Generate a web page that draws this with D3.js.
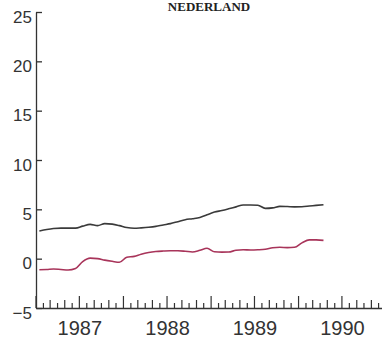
<!DOCTYPE html>
<html>
<head>
<meta charset="utf-8">
<script src="https://cdn.jsdelivr.net/npm/d3@7"></script>
<style>
  body { margin: 0; background: #fff; }
  text { font-family: "Liberation Sans", "DejaVu Sans", sans-serif; fill: #333; }
</style>
</head>
<body>
<script>
// monthly series, Jan 1987 - Apr 1990
const start = new Date(1987, 0, 15);
const blackValues = [2.8, 2.95, 3.05, 3.1, 3.1, 3.1, 3.3, 3.48, 3.35, 3.55, 3.5, 3.35,
                     3.15, 3.08, 3.12, 3.18, 3.27, 3.42, 3.55, 3.75, 3.95, 4.05, 4.18, 4.45,
                     4.72, 4.88, 5.05, 5.25, 5.44, 5.44, 5.42, 5.1, 5.15, 5.3, 5.28, 5.25,
                     5.26, 5.33, 5.4, 5.47];
const redValues = [-1.12, -1.1, -1.05, -1.1, -1.15, -1.0, -0.3, 0.05, 0.0, -0.15, -0.27, -0.37,
                   0.15, 0.23, 0.45, 0.62, 0.72, 0.77, 0.8, 0.8, 0.75, 0.68, 0.85, 1.05,
                   0.7, 0.66, 0.67, 0.85, 0.9, 0.88, 0.9, 0.95, 1.1, 1.15, 1.12, 1.15,
                   1.6, 1.9, 1.9, 1.85];
const yTicks = [-5, 0, 5, 10, 15, 20, 25];
const yearLabels = [1987, 1988, 1989, 1990];
const title = "NEDERLAND";

const svg = d3.select("body")
              .append("svg")
              .attr("width", 382)
              .attr("height", 343);

const x = d3.scaleTime()
            .domain([new Date(1987, 0, 1), new Date(1991, 0, 1)])
            .range([36, 386]);

const y = d3.scaleLinear()
            .domain([-5, 25])
            .range([308, 12]);

const months = d3.timeMonth.range(new Date(1987, 0, 1), new Date(1991, 0, 1));
const dates = blackValues.map((d, i) => d3.timeMonth.offset(start, i));

// title, kept at the very top but readable
svg.append("text")
   .attr("x", 209)
   .attr("y", 11)
   .attr("text-anchor", "middle")
   .style("font-family", "'Liberation Serif', serif")
   .style("font-weight", "bold")
   .style("font-size", "13px")
   .style("fill", "#222")
   .text(title);

// y axis
const yAxis = svg.append("g")
   .attr("transform", "translate(36,0)")
   .call(d3.axisLeft(y).tickValues(yTicks).tickSizeInner(-6).tickSizeOuter(0).tickPadding(4)
           .tickFormat(d => d < 0 ? "\u2212" + Math.abs(d) : d));
yAxis.selectAll("text").style("font-size", "17px").attr("dy", "0.6em");
yAxis.selectAll("path, line").attr("stroke", "#333").attr("stroke-width", 1.3);

// x axis
const xAxis = svg.append("g")
   .attr("transform", "translate(0,308)")
   .call(d3.axisBottom(x)
           .tickValues(yearLabels.map(yr => new Date(yr, 6, 1)))
           .tickSize(0).tickPadding(13)
           .tickFormat(d => d.getFullYear()));
xAxis.selectAll("text").style("font-size", "20px");
xAxis.select(".domain").attr("stroke", "#333").attr("stroke-width", 1.3);

svg.append("g")
   .selectAll("line")
   .data(months)
   .join("line")
   .attr("x1", d => x(d))
   .attr("x2", d => x(d))
   .attr("y1", 308)
   .attr("y2", (d, i) => 308 - (i % 6 === 0 ? 12 : i % 2 === 0 ? 8 : 5))
   .attr("stroke", "#333")
   .attr("stroke-width", 1.2);

// lines
const line = d3.line()
               .x((d, i) => x(dates[i]))
               .y(d => y(d))
               .curve(d3.curveMonotoneX);

svg.append("path")
   .attr("d", line(blackValues))
   .attr("fill", "none")
   .attr("stroke", "#3a3a3a")
   .attr("stroke-width", 1.6);

svg.append("path")
   .attr("d", line(redValues))
   .attr("fill", "none")
   .attr("stroke", "#a8345a")
   .attr("stroke-width", 1.6);
</script>
</body>
</html>
